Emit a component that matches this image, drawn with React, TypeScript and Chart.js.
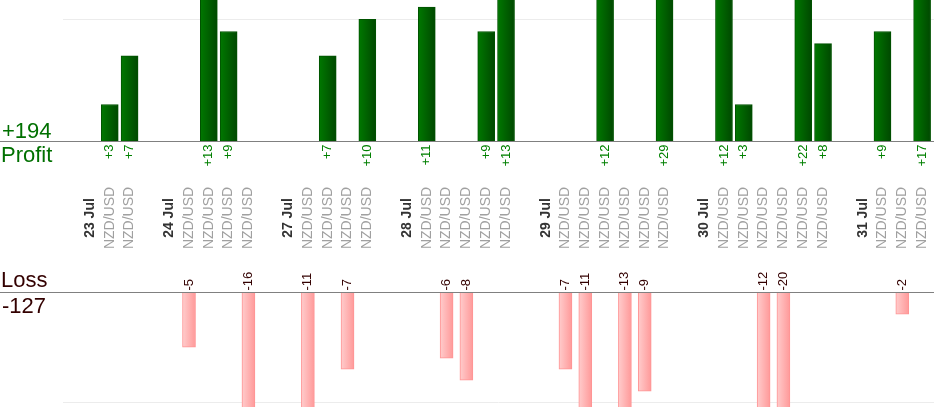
import { useEffect, useRef } from "react";
import { Chart, registerables } from "chart.js";
Chart.register(...registerables);

const FONT = "'Liberation Sans', Arial, sans-serif";

const categories = [
  "23 Jul", "NZD/USD", "NZD/USD", "",
  "24 Jul", "NZD/USD", "NZD/USD", "NZD/USD", "NZD/USD", "",
  "27 Jul", "NZD/USD", "NZD/USD", "NZD/USD", "NZD/USD", "",
  "28 Jul", "NZD/USD", "NZD/USD", "NZD/USD", "NZD/USD", "NZD/USD", "",
  "29 Jul", "NZD/USD", "NZD/USD", "NZD/USD", "NZD/USD", "NZD/USD", "NZD/USD", "",
  "30 Jul", "NZD/USD", "NZD/USD", "NZD/USD", "NZD/USD", "NZD/USD", "NZD/USD", "",
  "31 Jul", "NZD/USD", "NZD/USD", "NZD/USD",
];

const profit = [
  null, 3, 7, null,
  null, null, 13, 9, null, null,
  null, null, 7, null, 10, null,
  null, 11, null, null, 9, 13, null,
  null, null, null, 12, null, null, 29, null,
  null, 12, 3, null, null, 22, 8, null,
  null, 9, null, 17,
];

const loss = [
  null, null, null, null,
  null, -5, null, null, -16, null,
  null, -11, null, -7, null, null,
  null, null, -6, -8, null, null, null,
  null, -7, -11, null, -13, -9, null, null,
  null, null, null, -12, -20, null, null, null,
  null, null, -2, null,
];

const profitTotal = profit.reduce((s, v) => s + (v ?? 0), 0);
const lossTotal = loss.reduce((s, v) => s + (v ?? 0), 0);

const isDate = (s: string) => / Jul$/.test(s);

const toPoints = (arr: (number | null)[]) =>
  arr.flatMap((v, i) => (v == null ? [] : [{ x: i, y: v }]));

// left-to-right shading of a bar, placed from the x scale
function gradientFill(from: string, to: string, half: number) {
  return (c: any) => {
    const xs = c.chart.scales?.x;
    if (!xs || !c.raw) return to;
    const px = xs.getPixelForValue(c.raw.x);
    if (!Number.isFinite(px)) return to;
    const g = c.chart.ctx.createLinearGradient(px - half, 0, px + half, 0);
    g.addColorStop(0, from);
    g.addColorStop(1, to);
    return g;
  };
}

const xScale = {
  type: "linear" as const,
  min: -1.36,
  max: 42.6,
  offset: false,
  grid: { offset: false },
  display: false,
};

export default function App() {
  const topRef = useRef<HTMLCanvasElement>(null);
  const bottomRef = useRef<HTMLCanvasElement>(null);

  useEffect(() => {
    if (!topRef.current || !bottomRef.current) return;
    Chart.defaults.font.family = FONT;

    const topLabels = {
      id: "topLabels",
      afterDraw(chart: any) {
        const { ctx, scales } = chart;
        const base = Math.round(scales.y.getPixelForValue(0)) + 0.5;
        ctx.save();
        ctx.strokeStyle = "#808080";
        ctx.lineWidth = 1;
        ctx.beginPath();
        ctx.moveTo(0, base);
        ctx.lineTo(chart.width, base);
        ctx.stroke();

        ctx.font = `13px ${FONT}`;
        ctx.fillStyle = "#008000";
        ctx.textAlign = "right";
        ctx.textBaseline = "middle";
        profit.forEach((v, i) => {
          if (v == null) return;
          ctx.save();
          ctx.translate(scales.x.getPixelForValue(i), base + 3);
          ctx.rotate(-Math.PI / 2);
          ctx.fillText("+" + v, 0, 0);
          ctx.restore();
        });

        ctx.textAlign = "center";
        categories.forEach((label, i) => {
          if (!label) return;
          ctx.save();
          ctx.translate(scales.x.getPixelForValue(i), 218);
          ctx.rotate(-Math.PI / 2);
          if (isDate(label)) {
            ctx.font = `bold 14px ${FONT}`;
            ctx.fillStyle = "#333333";
          } else {
            ctx.font = `14px ${FONT}`;
            ctx.fillStyle = "#a0a0a0";
          }
          ctx.fillText(label, 0, 0);
          ctx.restore();
        });
        ctx.restore();
      },
    };

    const bottomLabels = {
      id: "bottomLabels",
      afterDraw(chart: any) {
        const { ctx, scales } = chart;
        const base = Math.round(scales.y.getPixelForValue(0)) + 0.5;
        ctx.save();
        ctx.strokeStyle = "#808080";
        ctx.lineWidth = 1;
        ctx.beginPath();
        ctx.moveTo(0, base);
        ctx.lineTo(chart.width, base);
        ctx.stroke();

        ctx.font = `13px ${FONT}`;
        ctx.fillStyle = "#330000";
        ctx.textAlign = "left";
        ctx.textBaseline = "middle";
        loss.forEach((v, i) => {
          if (v == null) return;
          ctx.save();
          ctx.translate(scales.x.getPixelForValue(i), base - 2);
          ctx.rotate(-Math.PI / 2);
          ctx.fillText(String(v), 0, 0);
          ctx.restore();
        });
        ctx.restore();
      },
    };

    const top = new Chart(topRef.current, {
      type: "bar",
      data: {
        datasets: [{
          data: toPoints(profit) as any,
          backgroundColor: gradientFill("#007800", "#004800", 8.5),
          borderColor: "#005200",
          borderWidth: 1,
          borderSkipped: "bottom",
          barThickness: 17,
          clip: 0,
        }],
      },
      options: {
        animation: false,
        responsive: false,
        events: [],
        layout: { padding: { left: 63, right: 0, top: 0, bottom: 119 } },
        plugins: { legend: { display: false }, tooltip: { enabled: false } },
        scales: {
          x: xScale,
          y: {
            min: 0,
            max: 11.59,
            border: { display: false },
            ticks: { display: false },
            grid: { color: "#ececec", drawTicks: false },
            afterBuildTicks: (s: any) => { s.ticks = [{ value: 10 }]; },
          },
        },
      },
      plugins: [topLabels],
    });

    const bottom = new Chart(bottomRef.current, {
      type: "bar",
      data: {
        datasets: [{
          data: toPoints(loss) as any,
          backgroundColor: gradientFill("#ffcccc", "#ff9999", 6.5),
          borderColor: "#ff9494",
          borderWidth: 1,
          borderSkipped: "bottom",
          barThickness: 13,
          clip: 0,
        }],
      },
      options: {
        animation: false,
        responsive: false,
        events: [],
        layout: { padding: { left: 63, right: 0, top: 32, bottom: 13 } },
        plugins: { legend: { display: false }, tooltip: { enabled: false } },
        scales: {
          x: xScale,
          y: {
            min: -10.43,
            max: 0,
            border: { display: false },
            ticks: { display: false },
            grid: { color: "#ececec", drawTicks: false },
            afterBuildTicks: (s: any) => { s.ticks = [{ value: -10 }]; },
          },
        },
      },
      plugins: [bottomLabels],
    });

    return () => {
      top.destroy();
      bottom.destroy();
    };
  }, []);

  const big = { position: "absolute" as const, fontSize: 22, lineHeight: "22px", fontFamily: FONT };

  return (
    <div style={{ position: "absolute", left: 0, top: 0, width: 934, height: 420, background: "#fff", overflow: "hidden" }}>
      <canvas ref={topRef} width={934} height={260} style={{ position: "absolute", left: 0, top: 0 }} />
      <canvas ref={bottomRef} width={934} height={160} style={{ position: "absolute", left: 0, top: 260 }} />
      <div style={{ ...big, left: 2, top: 120, color: "#007000" }}>+{profitTotal}</div>
      <div style={{ ...big, left: 1, top: 144, color: "#007000" }}>Profit</div>
      <div style={{ ...big, left: 1, top: 269, color: "#330000" }}>Loss</div>
      <div style={{ ...big, left: 2, top: 295, color: "#330000" }}>{lossTotal}</div>
    </div>
  );
}
